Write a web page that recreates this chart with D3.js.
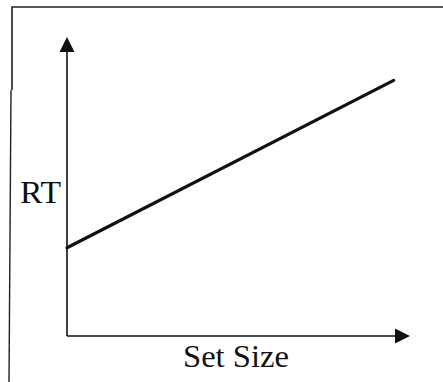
<!DOCTYPE html>
<html><head><meta charset="utf-8">
<script src="https://cdn.jsdelivr.net/npm/d3@7"></script>
<style>html,body{margin:0;padding:0;background:#fff;}svg{display:block;}</style>
</head><body>
<script>
const setSize = [0, 20];
const rt = [2.95, 8.55];
const xLabel = "Set Size";
const yLabel = "RT";

const W = 443, H = 382;
const svg = d3.select("body").append("svg").attr("width", W).attr("height", H);

const x = d3.scaleLinear().domain([0, 21]).range([67, 410]);
const y = d3.scaleLinear().domain([0, 10]).range([336, 37]);

// frame
svg.append("path").attr("d", "M12,90 L12,7 L443,7").attr("fill", "none").attr("stroke", "#222").attr("stroke-width", 1.6);
svg.append("path").attr("d", "M11,90 L9,382").attr("fill", "none").attr("stroke", "#222").attr("stroke-width", 1.4);

// axes
svg.append("line").attr("x1", x(0)).attr("y1", y(0)).attr("x2", x(0)).attr("y2", y(9.5))
  .attr("stroke", "#111").attr("stroke-width", 1.6);
svg.append("line").attr("x1", x(0)).attr("y1", y(0)).attr("x2", x(20.1)).attr("y2", y(0))
  .attr("stroke", "#111").attr("stroke-width", 1.6);
// arrowheads
const tipY = [x(0), y(10)];
svg.append("path").attr("d", `M${tipY[0]},${tipY[1]} L${tipY[0]-7.5},${tipY[1]+15} L${tipY[0]+7.5},${tipY[1]+15} Z`).attr("fill", "#111");
const tipX = [x(21), y(0)];
svg.append("path").attr("d", `M${tipX[0]},${tipX[1]} L${tipX[0]-15},${tipX[1]-7.5} L${tipX[0]-15},${tipX[1]+7.5} Z`).attr("fill", "#111");

// data line
const pts = setSize.map((s, i) => [s, rt[i]]);
svg.append("path").datum(pts)
  .attr("d", d3.line().x(d => x(d[0])).y(d => y(d[1])))
  .attr("fill", "none").attr("stroke", "#111").attr("stroke-width", 3.2).attr("stroke-linecap", "round");

// labels
svg.append("text").attr("x", 20).attr("y", 203).text(yLabel)
  .attr("font-family", "Liberation Serif, Times New Roman, serif").attr("font-size", 31).attr("fill", "#111")
  .attr("textLength", 41).attr("lengthAdjust", "spacingAndGlyphs");
svg.append("text").attr("x", 183).attr("y", 367).text(xLabel)
  .attr("font-family", "Liberation Serif, Times New Roman, serif").attr("font-size", 31).attr("fill", "#111")
  .attr("textLength", 106).attr("lengthAdjust", "spacingAndGlyphs");
</script>
</body></html>
